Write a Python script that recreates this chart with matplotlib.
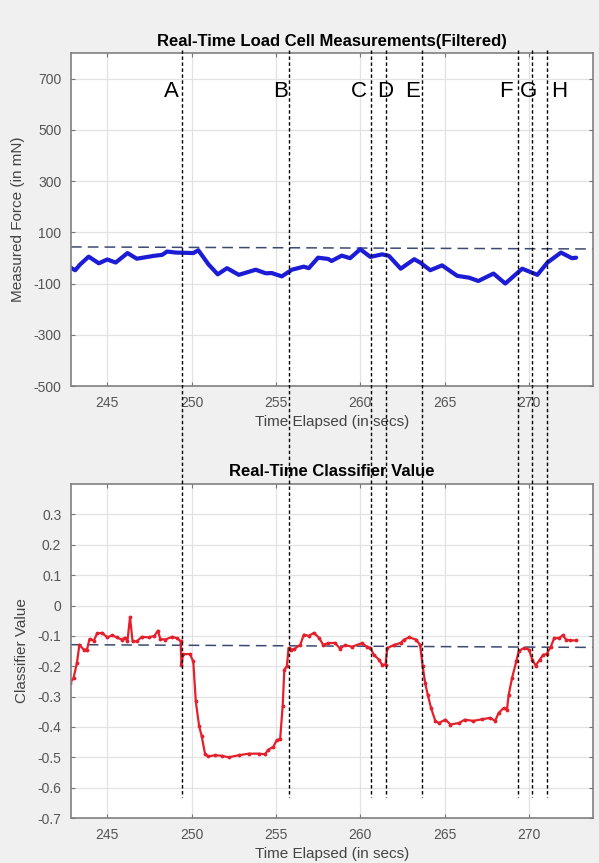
import numpy as np
import matplotlib
matplotlib.use("Agg")
import matplotlib.pyplot as plt
from matplotlib.lines import Line2D

plt.rcParams['font.family'] = ['Liberation Sans', 'DejaVu Sans']
plt.rcParams['axes.unicode_minus'] = False

# --- filtered load cell force (mN) ---
force_t = [242.75, 243.1, 243.4, 243.9, 244.5, 245.0, 245.5, 246.2, 246.75, 247.75,
           248.25, 248.55, 249.05, 250.1, 250.4, 251.0, 251.55, 252.1, 252.8, 253.8,
           254.4, 254.75, 255.35, 255.95, 256.65, 256.95, 257.5, 258.1, 258.3, 258.9,
           259.4, 260.0, 260.6, 261.3, 261.7, 262.4, 263.2, 263.55, 264.15, 264.85,
           265.75, 266.45, 267.0, 267.9, 268.6, 269.6, 270.5, 271.1, 271.9, 272.55, 272.8]
force_v = [-35, -48, -25, 5, -21, -6, -18, 19, -3, 8,
           12, 25, 21, 19, 30, -25, -64, -40, -66, -46,
           -60, -59, -72, -46, -34, -40, 1, -4, -12, 9,
           -1, 34, 4, 14, 8, -42, -5, -18, -48, -29,
           -70, -77, -90, -61, -100, -42, -66, -18, 21, -1, 1]

# --- classifier output ---
clf_t = [242.8, 243.0, 243.2, 243.35, 243.6, 243.8, 243.95, 244.2, 244.4, 244.7,
         245.0, 245.3, 245.55, 245.85, 246.05, 246.2, 246.35, 246.5, 246.75, 247.05,
         247.45, 247.8, 248.0, 248.15, 248.45, 248.85, 249.15, 249.35, 249.4, 249.5,
         249.9, 250.1, 250.25, 250.45, 250.6, 250.8, 251.0, 251.4, 251.8, 252.2,
         252.8, 253.4, 254.0, 254.35, 254.55, 254.85, 255.05, 255.25, 255.4, 255.5,
         255.65, 255.75, 255.9, 256.1, 256.45, 256.65, 256.95, 257.25, 257.55, 257.8,
         258.1, 258.5, 258.8, 259.1, 259.5, 260.1, 260.4, 260.6, 260.8, 261.1,
         261.3, 261.5, 261.6, 262.0, 262.4, 262.6, 262.9, 263.3, 263.55, 263.7,
         263.85, 264.0, 264.2, 264.45, 264.65, 265.05, 265.35, 265.85, 266.2, 266.7,
         267.2, 267.7, 268.0, 268.2, 268.5, 268.7, 268.8, 269.0, 269.25, 269.4,
         269.7, 270.0, 270.2, 270.4, 270.65, 270.85, 271.05, 271.3, 271.5, 271.8,
         272.0, 272.2, 272.45, 272.8]
clf_v = [-0.255, -0.239, -0.19, -0.129, -0.145, -0.145, -0.11, -0.116, -0.092, -0.09,
         -0.105, -0.098, -0.105, -0.112, -0.106, -0.116, -0.038, -0.118, -0.118, -0.103,
         -0.105, -0.10, -0.083, -0.111, -0.112, -0.103, -0.108, -0.118, -0.195, -0.16,
         -0.16, -0.184, -0.316, -0.398, -0.43, -0.49, -0.497, -0.493, -0.495, -0.50,
         -0.493, -0.488, -0.488, -0.49, -0.475, -0.465, -0.443, -0.44, -0.332, -0.211,
         -0.20, -0.14, -0.145, -0.143, -0.129, -0.096, -0.10, -0.09, -0.106, -0.129,
         -0.124, -0.123, -0.142, -0.13, -0.136, -0.124, -0.136, -0.139, -0.162, -0.178,
         -0.195, -0.195, -0.14, -0.13, -0.123, -0.112, -0.105, -0.112, -0.13, -0.20,
         -0.255, -0.294, -0.338, -0.38, -0.387, -0.376, -0.392, -0.387, -0.376, -0.38,
         -0.375, -0.37, -0.38, -0.354, -0.338, -0.343, -0.294, -0.239, -0.184, -0.15,
         -0.14, -0.145, -0.178, -0.198, -0.178, -0.162, -0.16, -0.136, -0.107, -0.107,
         -0.098, -0.112, -0.115, -0.115]

# threshold lines (left / right end values)
force_thresh = [43, 35]
clf_thresh = [-0.129, -0.138]

# event markers
event_t = [249.45, 255.8, 260.65, 261.55, 263.65, 269.35, 270.2, 271.05]
event_labels = ['A', 'B', 'C', 'D', 'E', 'F', 'G', 'H']
label_t = [248.8, 255.3, 259.9, 261.5, 263.1, 268.65, 270.0, 271.8]

xlim = (242.85, 273.8)
xticks = [245, 250, 255, 260, 265, 270]

fig = plt.figure(figsize=(5.99, 8.63), dpi=100)
fig.patch.set_facecolor('#f0f0f0')

ax1 = fig.add_axes([0.1185, 0.5527, 0.8715, 0.3859])
ax2 = fig.add_axes([0.1185, 0.0521, 0.8715, 0.3870])

tick_col = '#555555'
for ax in (ax1, ax2):
    ax.set_facecolor('white')
    ax.set_xlim(*xlim)
    ax.set_xticks(xticks)
    ax.grid(True, color='#e2e2e2', linewidth=0.9)
    ax.set_axisbelow(True)
    ax.tick_params(direction='in', length=3, top=True, right=True, colors='#777777',
                   labelcolor=tick_col, labelsize=10, width=0.8, pad=7)
    for s in ax.spines.values():
        s.set_color('#808080')
        s.set_linewidth(1.2)
    ax.set_xlabel('Time Elapsed (in secs)', fontsize=11, color='#444444', labelpad=4)

# top: force
ax1.set_ylim(-500, 800)
ax1.set_yticks(np.arange(-500, 701, 200))
ax1.plot(xlim, force_thresh, color='#3c4a70', linewidth=1.1, dashes=(7, 4))
ax1.plot(force_t, force_v, color='#1c1cd6', linewidth=3.0, solid_joinstyle='round',
         solid_capstyle='round')
ax1.set_ylabel('Measured Force (in mN)', fontsize=11, color='#444444', labelpad=6)
ax1.set_title('Real-Time Load Cell Measurements(Filtered)', fontsize=12,
              fontweight='bold', pad=5)
for lab, lt in zip(event_labels, label_t):
    ax1.text(lt, 650, lab, fontsize=16, ha='center', va='center', color='black')

# bottom: classifier
ax2.set_ylim(-0.7, 0.4)
ax2.set_yticks(np.round(np.arange(-0.7, 0.31, 0.1), 1))
ax2.set_yticklabels(['-0.7', '-0.6', '-0.5', '-0.4', '-0.3', '-0.2', '-0.1', '0',
                     '0.1', '0.2', '0.3'])
ax2.plot(xlim, clf_thresh, color='#3c4a70', linewidth=1.1, dashes=(7, 4))
ax2.plot(clf_t, clf_v, color='#e4202c', linewidth=1.6, marker='.', markersize=3.5,
         solid_joinstyle='round')
ax2.set_ylabel('Classifier Value', fontsize=11, color='#444444', labelpad=6)
ax2.set_title('Real-Time Classifier Value', fontsize=12, fontweight='bold', pad=6)

# event lines spanning both panels
inv = fig.transFigure.inverted()
for t in event_t:
    p0 = inv.transform(ax1.transData.transform((t, 812)))
    p1 = inv.transform(ax2.transData.transform((t, -0.63)))
    fig.add_artist(Line2D([p0[0], p1[0]], [p0[1], p1[1]], transform=fig.transFigure,
                          color='black', linewidth=1.0, dashes=(2.5, 1.8)))

fig.savefig('out.png', dpi=100, facecolor=fig.get_facecolor())
